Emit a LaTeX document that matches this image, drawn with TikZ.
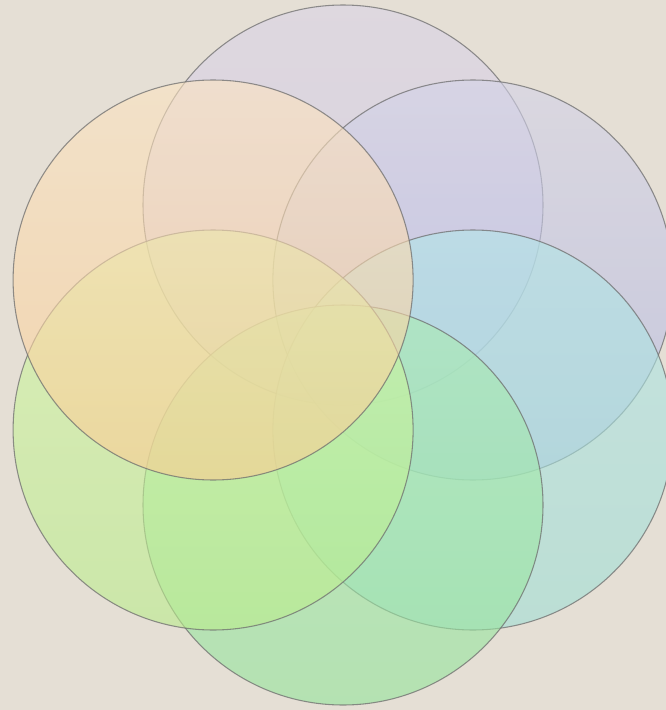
\documentclass[tikz,border=0pt]{standalone}
\definecolor{bg}{HTML}{E5DFD5}
\definecolor{tTop}{RGB}{218,212,230}\definecolor{bTop}{RGB}{205,196,232}
\definecolor{tUR}{RGB}{212,211,232}\definecolor{bUR}{RGB}{175,182,226}
\definecolor{tLR}{RGB}{178,230,232}\definecolor{bLR}{RGB}{160,222,212}
\definecolor{tBot}{RGB}{170,236,178}\definecolor{bBot}{RGB}{148,228,155}
\definecolor{tLL}{RGB}{212,248,165}\definecolor{bLL}{RGB}{186,236,140}
\definecolor{tUL}{RGB}{252,228,194}\definecolor{bUL}{RGB}{252,204,146}
\definecolor{edge}{HTML}{6E6E6E}
\tikzset{
  petal/.style 2 args={top color=#1, bottom color=#2, fill opacity=0.6},
  rim/.style={draw=edge, draw opacity=0.75, line width=0.8pt}
}
\begin{document}
\begin{tikzpicture}[x=0.75pt,y=-0.75pt]
\useasboundingbox (0,0) rectangle (666,710);
\clip (0,0) rectangle (666,710);
\fill[bg] (0,0) rectangle (666,710);
\coordinate (T) at (343,205);
\coordinate (UR) at (472.9,280);
\coordinate (LR) at (472.9,430);
\coordinate (B) at (343,505);
\coordinate (LL) at (213.1,430);
\coordinate (UL) at (213.1,280);
\shade[petal={tTop}{bTop}] (T) circle (150pt);  \draw[rim] (T) circle (150pt);
\shade[petal={tUR}{bUR}] (UR) circle (150pt);   \draw[rim] (UR) circle (150pt);
\shade[petal={tLR}{bLR}] (LR) circle (150pt);   \draw[rim] (LR) circle (150pt);
\shade[petal={tBot}{bBot}] (B) circle (150pt);  \draw[rim] (B) circle (150pt);
\shade[petal={tLL}{bLL}] (LL) circle (150pt);   \draw[rim] (LL) circle (150pt);
\shade[petal={tUL}{bUL}] (UL) circle (150pt);   \draw[rim] (UL) circle (150pt);
\end{tikzpicture}
\end{document}
